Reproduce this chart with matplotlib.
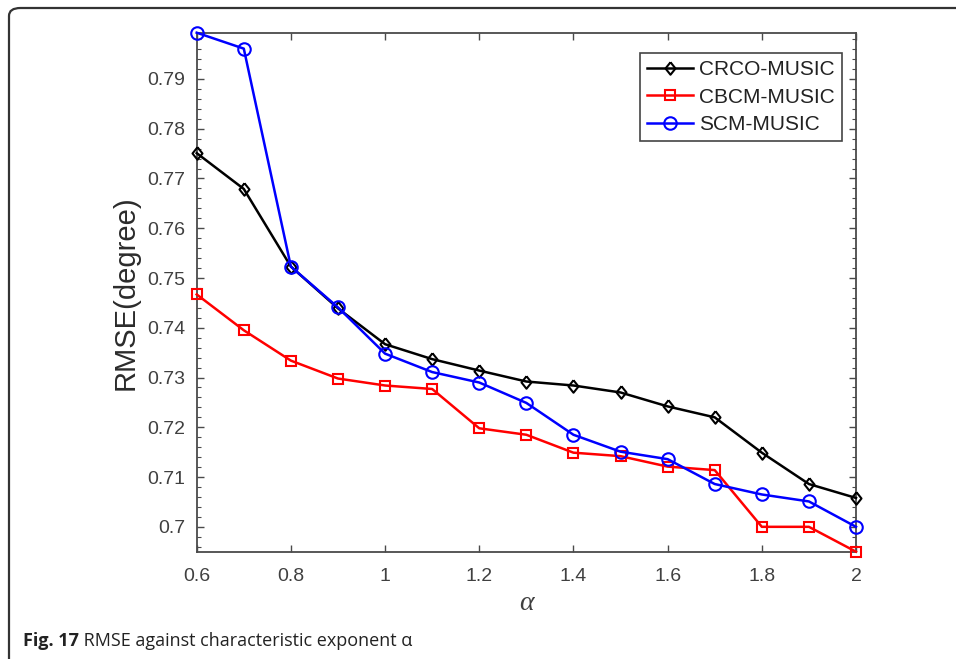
import matplotlib
matplotlib.use("Agg")
import matplotlib.pyplot as plt
from matplotlib.ticker import MultipleLocator, FixedLocator, FuncFormatter, NullLocator
from matplotlib.patches import FancyBboxPatch

alpha = [0.6, 0.7, 0.8, 0.9, 1.0, 1.1, 1.2, 1.3, 1.4, 1.5, 1.6, 1.7, 1.8, 1.9, 2.0]
crco = [0.7751, 0.7679, 0.7523, 0.7439, 0.7367, 0.7337, 0.7314, 0.7292, 0.7284, 0.7270,
        0.7242, 0.7220, 0.7149, 0.7086, 0.7058]
cbcm = [0.7467, 0.7395, 0.7334, 0.7298, 0.7284, 0.7277, 0.7198, 0.7185, 0.7149, 0.7142,
        0.7121, 0.7114, 0.7000, 0.7000, 0.6950]
scm = [0.7993, 0.7961, 0.7523, 0.7441, 0.7348, 0.7311, 0.7290, 0.7249, 0.7185, 0.7151,
       0.7136, 0.7086, 0.7065, 0.7051, 0.7000]
series_names = ["CRCO-MUSIC", "CBCM-MUSIC", "SCM-MUSIC"]
xticks = [0.6, 0.8, 1.0, 1.2, 1.4, 1.6, 1.8, 2.0]
yticks = [0.70, 0.71, 0.72, 0.73, 0.74, 0.75, 0.76, 0.77, 0.78, 0.79]
caption_bold = "Fig. 17"
caption_text = " RMSE against characteristic exponent α"

W, H = 956, 659
fig = plt.figure(figsize=(W / 100, H / 100), dpi=100)

# outer rounded frame
frame = FancyBboxPatch((9 / W, -40 / H), (W + 60) / W, (H - 8 + 40) / H,
                       boxstyle="round,pad=0,rounding_size=0.012",
                       transform=fig.transFigure, fill=False,
                       edgecolor="#333333", linewidth=1.6, clip_on=False)
fig.patches.append(frame)

ax = fig.add_axes([196.7 / W, 1 - 551.7 / H, (856 - 196.7) / W, (551.7 - 32.7) / H])

diamond = [(0, 1), (0.8, 0), (0, -1), (-0.8, 0), (0, 1)]
lw = 1.8
ax.plot(alpha, crco, color="black", lw=lw, marker=diamond, ms=9, mfc="none",
        mec="black", mew=1.5, label=series_names[0], clip_on=False, zorder=3)
ax.plot(alpha, cbcm, color="#ff0000", lw=lw, marker="s", ms=7.8, mfc="none",
        mec="#ff0000", mew=1.5, label=series_names[1], clip_on=False, zorder=3)
ax.plot(alpha, scm, color="#0000ff", lw=lw, marker="o", ms=9, mfc="none",
        mec="#0000ff", mew=1.5, label=series_names[2], clip_on=False, zorder=3)

allv = crco + cbcm + scm
ax.set_xlim(alpha[0], alpha[-1])
ax.set_ylim(min(allv), max(allv))

ax.xaxis.set_major_locator(FixedLocator(xticks))
ax.yaxis.set_major_locator(FixedLocator(yticks))
ax.xaxis.set_minor_locator(NullLocator())
ax.yaxis.set_minor_locator(MultipleLocator(0.002))
fmt = FuncFormatter(lambda v, p: "%g" % round(v, 4))
ax.xaxis.set_major_formatter(fmt)
ax.yaxis.set_major_formatter(fmt)

spine_c = "#4a4a4a"
for s in ax.spines.values():
    s.set_color(spine_c)
    s.set_linewidth(1.3)
ax.tick_params(which="both", direction="in", top=True, right=True, color=spine_c,
               labelcolor="#404040", labelsize=14)
ax.tick_params(which="major", length=5, width=1)
ax.tick_params(which="minor", length=3, width=0.8)
ax.tick_params(axis="x", pad=12)
ax.tick_params(axis="y", pad=8)
for t in ax.get_xticklabels() + ax.get_yticklabels():
    t.set_fontfamily("Liberation Sans")

ax.set_ylabel("RMSE(degree)", fontsize=21, fontfamily="Liberation Sans",
              color="#2b2b2b", labelpad=6)
ax.set_xlabel("α", fontsize=20, fontfamily="Liberation Serif", style="italic",
              color="#404040", labelpad=4)

leg = ax.legend(loc="upper right", bbox_to_anchor=((842 - 196.7) / 659.3, (551.7 - 53) / 519),
                borderaxespad=0, fancybox=False, framealpha=1, edgecolor="#444444",
                prop={"family": "Liberation Sans", "size": 15}, handlelength=2.2,
                handletextpad=0.3, labelspacing=0.4, borderpad=0.35)
leg.get_frame().set_linewidth(1.2)
for t in leg.get_texts():
    t.set_color("#222222")

# caption
t1 = fig.text(23 / W, 1 - 645.5 / H, caption_bold, fontsize=13, fontweight="bold",
              fontfamily="Open Sans", color="#222222", va="baseline", ha="left")
fig.canvas.draw()
bb = t1.get_window_extent()
fig.text(bb.x1 / W, 1 - 645.5 / H, caption_text, fontsize=13,
         fontfamily="Open Sans", color="#222222", va="baseline", ha="left")

fig.savefig("out.png", dpi=100)
